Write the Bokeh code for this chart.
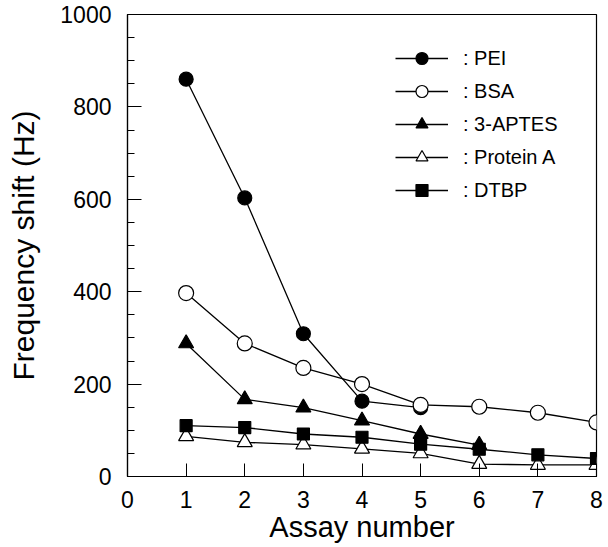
from bokeh.plotting import figure
from bokeh.models import (Legend, LegendItem, SingleIntervalTicker, FixedTicker, Range1d)
from bokeh.embed import file_html
from bokeh.resources import INLINE

# ---- data ----
assay_pei = [1, 2, 3, 4, 5]
pei = [860, 603, 309, 163, 149]
assay_bsa = [1, 2, 3, 4, 5, 6, 7, 8]
bsa = [397, 288, 235, 200, 155, 151, 138, 117]
assay_aptes = [1, 2, 3, 4, 5, 6]
aptes = [288, 167, 149, 121, 92, 68]
assay_prota = [1, 2, 3, 4, 5, 6, 7, 8]
prota = [87, 74, 69, 60, 50, 27, 25, 25]
assay_dtbp = [1, 2, 3, 4, 5, 6, 7, 8]
dtbp = [110, 106, 92, 85, 70, 59, 47, 39]
x_ticks = [0, 1, 2, 3, 4, 5, 6, 7, 8]
series_labels = [": PEI", ": BSA", ": 3-APTES", ": Protein A", ": DTBP"]

FONT = "Liberation Sans"

p = figure(width=606, height=545, output_backend="svg", toolbar_location=None,
           x_range=Range1d(0, 8), y_range=Range1d(0, 1000),
           min_border_left=127, min_border_right=10, min_border_top=14,
           min_border_bottom=64)
p.xgrid.visible = False
p.ygrid.visible = False
p.outline_line_color = "black"
p.outline_line_width = 1.2
p.background_fill_color = "white"
p.border_fill_color = "white"

# axes
p.xaxis.ticker = FixedTicker(ticks=x_ticks, minor_ticks=[])
p.yaxis.ticker = SingleIntervalTicker(interval=200, num_minor_ticks=4)
for ax in (p.xaxis[0], p.yaxis[0]):
    ax.axis_line_color = "black"
    ax.axis_line_width = 1.2
    ax.major_tick_line_color = "black"
    ax.minor_tick_line_color = "black"
    ax.major_tick_out = 0
    ax.minor_tick_out = 0
    ax.major_label_text_font = FONT
    ax.major_label_text_font_size = "23px"
    ax.major_label_text_color = "black"
    ax.axis_label_text_font = FONT
    ax.axis_label_text_font_style = "normal"
    ax.axis_label_text_color = "black"
p.xaxis.axis_label_text_font_size = "29px"
p.yaxis.axis_label_text_font_size = "30px"
p.xaxis.major_tick_in = 13
p.xaxis.minor_tick_in = 0
p.yaxis.major_tick_in = 14
p.yaxis.minor_tick_in = 7
p.xaxis.major_label_standoff = 14
p.yaxis.major_label_standoff = 16
p.xaxis.axis_label = "Assay number"
p.yaxis.axis_label = "Frequency shift (Hz)"
p.xaxis.axis_label_standoff = 0
p.yaxis.axis_label_standoff = 17

LW = 1.3
specs = [
    (assay_pei, pei, "circle", 14, "black"),
    (assay_bsa, bsa, "circle", 15, "white"),
    (assay_aptes, aptes, "triangle", 15, "black"),
    (assay_prota, prota, "triangle", 15, "white"),
    (assay_dtbp, dtbp, "square", 12, "black"),
]
items = []
for (xs, ys, marker, size, fill), lab in zip(specs, series_labels):
    ln = p.line(xs, ys, line_color="black", line_width=LW)
    sc = p.scatter(xs, ys, marker=marker, size=size, fill_color=fill,
                   line_color="black", line_width=1.2)
    items.append(LegendItem(label=lab, renderers=[ln, sc]))

legend = Legend(items=items, location=(268, 271))
legend.border_line_color = None
legend.background_fill_alpha = 0
legend.padding = 0
legend.margin = 0
legend.glyph_width = 53
legend.glyph_height = 30
legend.label_height = 20
legend.spacing = 3
legend.label_standoff = 15
legend.label_text_font = FONT
legend.label_text_font_size = "20px"
legend.label_text_color = "black"
p.add_layout(legend, "center")

open("out.html", "w").write(file_html(p, INLINE))
